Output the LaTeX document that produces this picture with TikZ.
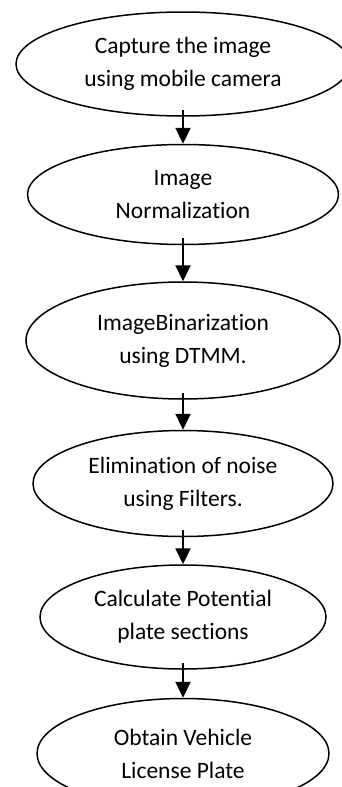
\documentclass[tikz,border=0pt]{standalone}
\usepackage{fontspec}
\setmainfont[Ligatures=NoCommon]{Carlito}
\usetikzlibrary{arrows.meta,positioning,shapes.geometric}
\tikzset{
    %Define standard arrow tip
    >={Triangle[width=15pt,length=16pt]},
    %Define style for the steps
    process/.style={
           ellipse,
           draw=black, line width=1.5pt,
           inner sep=0pt,
           align=center,
           font=\fontsize{23.5}{33}\selectfont},
    % Define arrow style
    flow/.style={
           ->,
           line width=2.2pt,
           shorten <=-7pt}
}

\begin{document}
\begin{tikzpicture}[node distance=27pt]
\useasboundingbox (0,0) rectangle (342pt,-787pt);
\node[process, minimum width=334pt, minimum height=104pt] (capture) at (183pt,-64pt) {Capture the image\\using mobile camera};
\node[process, minimum width=311pt, minimum height=100pt, below=27pt of capture] (normal) {Image\\Normalization};
\node[process, minimum width=314pt, minimum height=117pt, below=36pt of normal] (binar) {ImageBinarization\\using DTMM.};
\node[process, minimum width=300pt, minimum height=106pt, below=30pt of binar] (noise) {Elimination of noise\\using Filters.};
\node[process, minimum width=286pt, minimum height=104pt, below=27pt of noise] (plate) {Calculate Potential\\plate sections};
\node[process, minimum width=292pt, minimum height=110pt, below=28pt of plate] (obtain) {Obtain Vehicle\\License Plate};
 \path
    (capture) edge[flow] (normal)
    (normal) edge[flow] (binar)
    (binar) edge[flow] (noise)
    (noise) edge[flow] (plate)
    (plate) edge[flow] (obtain);
\end{tikzpicture}
\end{document}
